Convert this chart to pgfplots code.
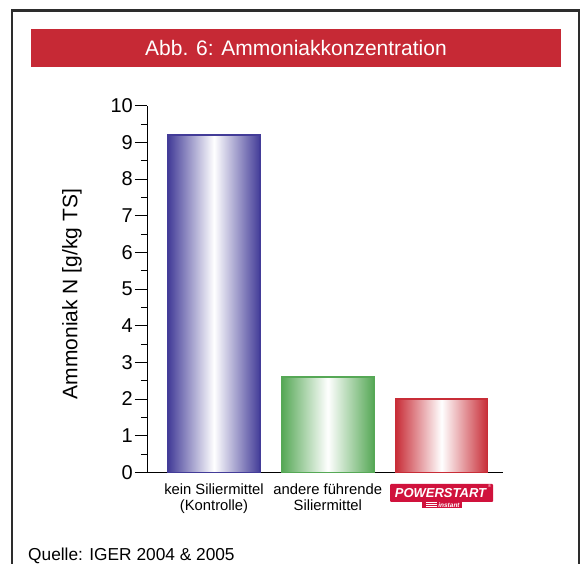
\documentclass[border=0pt]{standalone}
\usepackage{fontspec}
\setmainfont{Liberation Sans}
\usepackage{pgfplots}
\pgfplotsset{compat=1.18}

\definecolor{bandred}{RGB}{198,41,53}
\definecolor{barblue}{RGB}{67,60,152}
\definecolor{bargreen}{RGB}{86,168,86}
\definecolor{barred}{RGB}{200,45,55}
\definecolor{logored}{RGB}{208,18,60}
\definecolor{framegray}{RGB}{45,45,45}

\begin{document}
\begin{tikzpicture}
  % page is 581 x 564, 1px = 1pt
  \path[use as bounding box] (0pt,0pt) rectangle (581pt,564pt);

  % frame and title band
  \draw[line width=2.5pt, framegray] (12.2pt,-5pt) -- (12.2pt,553.7pt) -- (579pt,553.7pt) -- (579pt,-5pt);
  \fill[bandred] (31pt,497pt) rectangle (561pt,535pt);
  \node[white, font=\fontsize{21}{24}\selectfont] at (296pt,516pt) {Abb. 6: Ammoniakkonzentration};

  \begin{axis}[
    at={(147pt,91.7pt)}, anchor=south west,
    scale only axis,
    width=356pt, height=366.6pt,
    xmin=-0.589, xmax=2.54,
    ymin=0, ymax=10,
    axis x line=bottom, axis y line=left,
    axis line style={-, line width=1pt, black},
    ytick={0,1,...,10},
    minor y tick num=1,
    tick align=outside,
    major tick length=12pt, minor tick length=6pt,
    y tick style={line width=0.8pt, black},
    xtick={0,1,2},
    xticklabels={{kein Siliermittel\\(Kontrolle)}, {andere führende\\Siliermittel}, {}},
    x tick style={draw=none},
    xticklabel style={align=center, font=\fontsize{14.8}{16}\selectfont, yshift=4pt},
    yticklabel style={font=\fontsize{20}{20}\selectfont, inner sep=2pt},
    /pgf/number format/assume math mode=true,
    ylabel={Ammoniak N [g/kg TS]},
    ylabel style={at={(axis description cs:-0.211,0.486)}, anchor=center, font=\fontsize{21}{24}\selectfont},
    ybar, bar width=92pt, bar shift=0pt,
  ]
    \addplot[ybar, draw=barblue, line width=1.5pt, left color=barblue, right color=barblue, middle color=white]
      coordinates {(0,9.2)};
    \addplot[ybar, draw=bargreen, line width=1.5pt, left color=bargreen, right color=bargreen, middle color=white]
      coordinates {(1,2.6)};
    \addplot[ybar, draw=barred, line width=1.5pt, left color=barred, right color=barred, middle color=white]
      coordinates {(2,2.0)};
  \end{axis}

  % POWERSTART instant logo as third category label
  \fill[logored, rounded corners=1pt] (390pt,62pt) rectangle (493pt,80pt);
  \fill[logored] (422pt,56pt) rectangle (462pt,62.5pt);
  \node[white, inner sep=0pt, font=\fontsize{13}{13}\selectfont\bfseries\itshape] at (440.5pt,71pt) {POWERSTART};
  \node[white, inner sep=0pt, font=\fontsize{4}{4}\selectfont] at (489.5pt,77.5pt) {®};
  \node[white, inner sep=0pt, font=\fontsize{6.5}{6.5}\selectfont\bfseries\itshape] at (449pt,59.2pt) {instant};
  \foreach \yy in {58,59.8,61.4}
    \draw[white, line width=0.6pt] (426pt,\yy pt) -- (437pt,\yy pt);

  % source line
  \node[anchor=base west, inner sep=0pt, font=\fontsize{17.3}{20}\selectfont] at (28pt,3pt) {Quelle: IGER 2004 \& 2005};
\end{tikzpicture}
\end{document}
